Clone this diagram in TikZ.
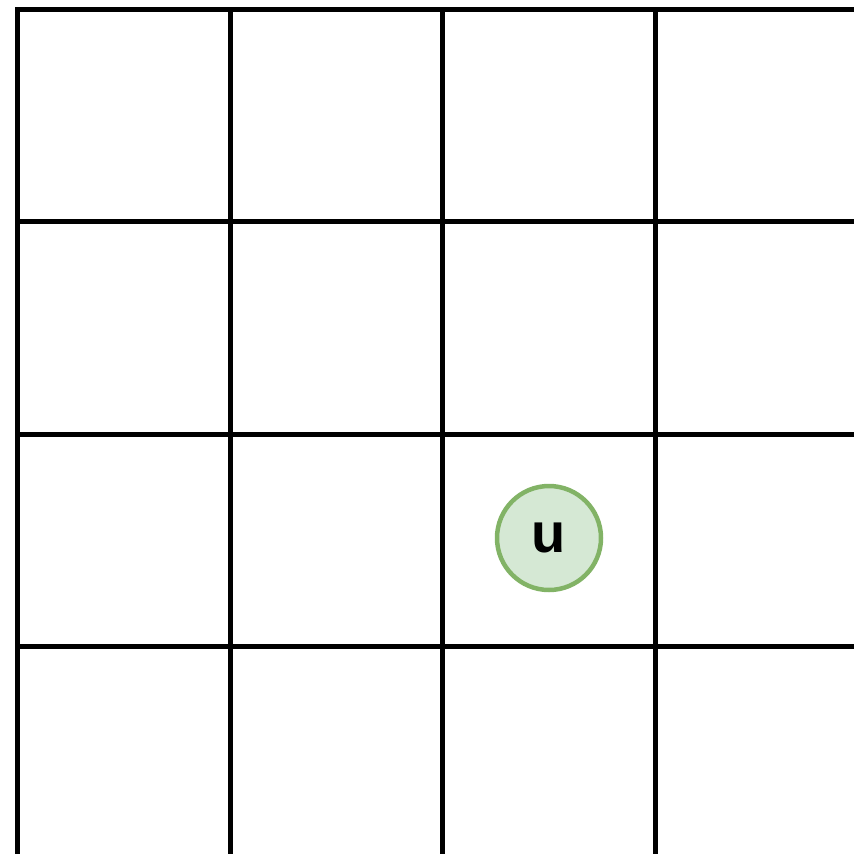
\documentclass[tikz,border=0pt]{standalone}
\usepackage{fontspec}
\setmainfont{Liberation Sans}
\definecolor{ufill}{HTML}{D5E8D4}
\definecolor{uline}{HTML}{82B366}
\tikzset{
  gridline/.style={line width=5pt, black, line cap=rect},
  vertex/.style={circle, draw=uline, fill=ufill, line width=4.5pt, minimum size=104pt, inner sep=0pt, font=\fontsize{56}{60}\selectfont\bfseries}
}
\begin{document}
\begin{tikzpicture}[x=1pt,y=-1pt]
\useasboundingbox (0,0) rectangle (854,854);
\begin{scope}
\clip (0,0) rectangle (854,854);
\foreach \x in {17.5,230,442.5,655}
  \draw[gridline] (\x,9) -- (\x,900);
\foreach \y in {9,221.5,434,646.5}
  \draw[gridline] (17.5,\y) -- (900,\y);
\end{scope}
\node[vertex] (u) at (549,538) {\raisebox{-4pt}{u}};
\end{tikzpicture}
\end{document}
